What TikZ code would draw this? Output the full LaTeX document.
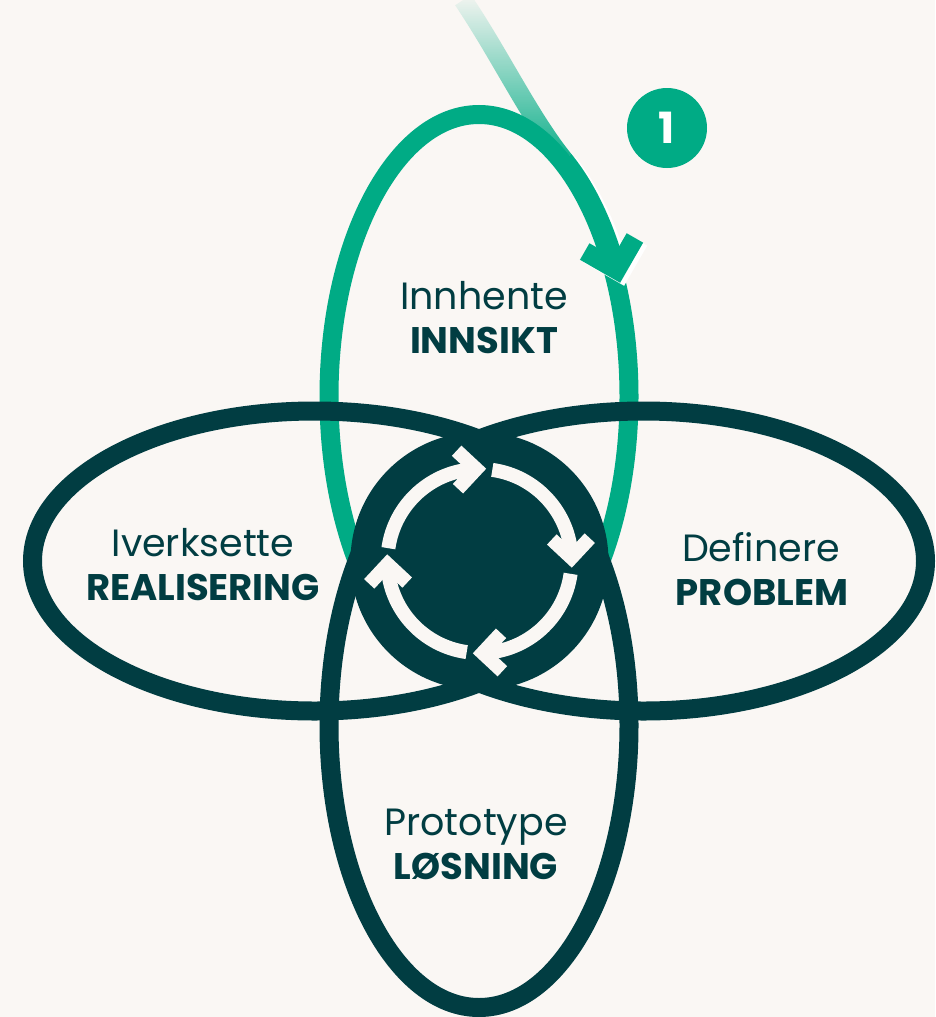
\documentclass[tikz,border=0pt]{standalone}
\usepackage{fontspec}
\setmainfont{Poppins}
\usetikzlibrary{decorations.markings,fadings}

\definecolor{cream}{RGB}{250,247,244}
\definecolor{petrol}{RGB}{1,61,66}
\definecolor{mint}{RGB}{0,171,133}

\tikzfading[name=fadein, top color=transparent!100, bottom color=transparent!0]

\tikzset{
  loop/.style={draw=petrol, line width=19pt},
  head/.style 2 args={postaction={decorate, decoration={markings,
      mark=at position 1 with {\draw[#1, line join=miter, line cap=butt] (-#2,#2) -- (0,0) -- (-#2,-#2);}}}},
  ring arrow/.style={draw=cream, line width=14pt, head={cream}{19}},
  thin label/.style={text=petrol, font=\fontsize{38}{44}\selectfont, inner sep=0pt, anchor=base},
  bold label/.style={text=petrol, font=\fontsize{37}{44}\selectfont\bfseries, inner sep=0pt, anchor=base}
}

\begin{document}
\begin{tikzpicture}[x=1pt, y=-1pt]
\useasboundingbox (0,0) rectangle (935,1017);
\fill[cream] (0,0) rectangle (935,1017);

% the four loops
\draw[loop, draw=mint] (479,396.5) ellipse[x radius=150, y radius=282];
\draw[loop] (314.5,561) ellipse[x radius=282, y radius=150];
\draw[loop] (643.5,561) ellipse[x radius=282, y radius=150];
\draw[loop] (479,725.5) ellipse[x radius=150, y radius=282];

% hub with the cycle arrows
\node[circle, fill=petrol, minimum size=258pt, inner sep=0pt] (hub) at (479.5,561) {};
\foreach \a in {188,278,8,98}
  \draw[ring arrow] ([shift={(\a:92)}]hub.center) arc[start angle=\a, delta angle=80, radius=92];

% incoming arrow
\draw[mint, line width=19pt, path fading=fadein] (463,0) .. controls (500,55) and (530,118) .. (564,160);
\draw[white, line width=19pt, shift={(4,3)}, head={white}{26}] (564,160) arc[start angle=-56.4, end angle=-26.5, x radius=154, y radius=284];
\draw[mint, line width=19pt, head={mint}{26}] (564,160) arc[start angle=-56.4, end angle=-26.5, x radius=154, y radius=284];

\node[circle, fill=mint, minimum size=80pt, inner sep=0pt, text=white, font=\fontsize{43}{43}\selectfont\bfseries] (badge) at (667,128) {1};

% labels
\node[thin label] (innhente) at (484,309) {Innhente};
\node[bold label] (innsikt) at (484,353) {INNSIKT};
\node[thin label] (iverksette) at (203,556) {Iverksette};
\node[bold label] (realisering) at (203,600) {REALISERING};
\node[thin label] (definere) at (761,561) {Definere};
\node[bold label] (problem) at (762,605) {PROBLEM};
\node[thin label] (prototype) at (476,835) {Prototype};
\node[bold label] (losning) at (476,879) {LØSNING};
\end{tikzpicture}
\end{document}
